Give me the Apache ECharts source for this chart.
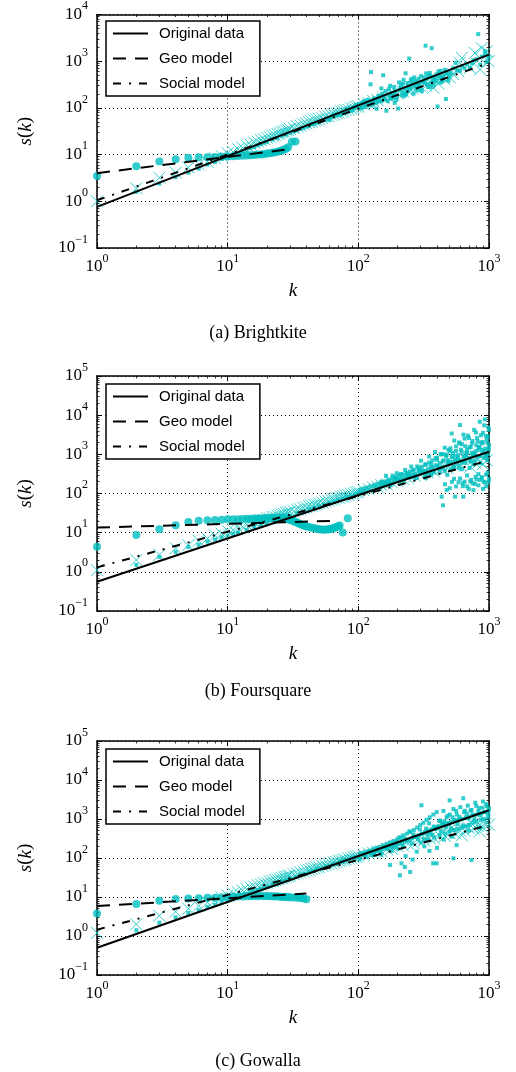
<!DOCTYPE html>
<html><head><meta charset="utf-8">
<script src="https://cdn.jsdelivr.net/npm/echarts@6/dist/echarts.min.js"></script>
<style>html,body{margin:0;padding:0;background:#fff}#c{width:516px;height:1072px}</style>
</head><body><div id="c"></div>
<script>
// ---------------- DATA ----------------
const captions = ['(a) Brightkite', '(b) Foursquare', '(c) Gowalla'];
const legendNames = ['Original data', 'Geo model', 'Social model'];
const xRange = [1, 1000];
const yRanges = [[0.1, 10000], [0.1, 100000], [0.1, 100000]];

// (a) Brightkite
const bkObserved = [[2,1.6],[3,2.4],[4,3.3],[5,4.1],[6,5.0],[7,6.1],[8,6.9],[9,8.1],[10,8.8],[11,9.9],[12,10.6],[13,11.9],[14,12.5],[15,13.8],[16,14.6],[17,15.9],[18,16.8],[19,17.9],[20,18.7],[22,21.2],[24,22.6],[26,25.3],[28,26.8],[30,29.5],[32,31.2],[34,32.8],[36,35.6],[38,36.9],[40,39.8],[42,41.2],[44,44.5],[46,45.1],[48,48.9],[50,49.3],[53,54.1],[56,55.8],[59,60.9],[60,55],[62,62.4],[65,67.8],[66,72],[68,69.1],[71,75.2],[72,70],[74,74.6],[77,82.3],[78,78],[80,84.7],[83,86.2],[84,96],[86,93.5],[89,94.8],[90,88],[92,101],[95,103],[96,115],[98,110],[100,118],[102,122],[104,108],[106,98],[108,127],[110,140],[112,104],[114,118],[116,134],[118,150],[120,126],[122,112],[124,320],[125,585],[126,135],[128,143],[130,117],[132,160],[135,152],[136,128],[138,96],[140,136],[142,180],[145,168],[146,142],[150,139],[150,262],[152,200],[155,182],[155,500],[158,165],[160,151],[162,230],[164,87],[168,140],[170,193],[172,255],[175,158],[175,298],[178,185],[180,209],[182,160],[185,172],[188,280],[190,231],[190,128],[192,205],[195,149],[198,175],[202,97],[205,352],[206,240],[210,263],[212,310],[215,188],[218,215],[220,331],[222,400],[225,178],[228,260],[230,550],[232,195],[235,221],[238,340],[240,292],[244,270],[245,1140],[250,248],[252,380],[255,418],[258,338],[260,300],[265,202],[268,450],[272,383],[276,260],[280,301],[284,350],[285,239],[290,421],[292,320],[300,268],[302,480],[306,230],[310,362],[316,390],[320,452],[324,340],[327,2150],[330,548],[335,318],[338,420],[342,280],[345,482],[350,505],[352,560],[355,281],[360,340],[364,1900],[368,470],[370,398],[375,302],[380,352],[384,410],[390,448],[395,521],[398,380],[404,107],[410,603],[414,500],[420,432],[426,620],[430,349],[436,460],[440,381],[448,420],[450,498],[460,652],[468,155],[472,540],[480,561],[490,380],[500,468],[510,560],[530,700],[555,920],[570,640],[600,618],[620,780],[650,705],[680,860],[714,720],[740,900],[760,1050],[800,1100],[827,3800],[857,850],[880,1250],[930,1630],[940,1350],[960,980],[990,1210]];
const bkGeo = [[1,3.5],[2,5.6],[3,7.1],[4,8.0],[5,8.6],[6,8.8],[7,8.8],[8,8.9],[9,9.0],[10,9.1],[11,9.2],[12,9.3],[13,9.4],[14,9.6],[15,9.7],[16,9.8],[17,10.0],[18,10.1],[19,10.3],[20,10.5],[21,10.7],[22,10.9],[23,11.2],[24,11.5],[25,11.9],[26,12.3],[27,12.8],[28,13.4],[29,14.3],[31,18.8],[33,19.1]];
const bkSocial = [[1,1.0],[2,1.9],[3,3.2],[4,4.1],[5,5.3],[6,6.2],[7,7.1],[8,8.4],[9,9.3],[10,10.7],[11,11.4],[12,13.1],[13,14.0],[14,15.6],[15,16.3],[16,18.1],[17,19.0],[18,20.4],[19,21.3],[20,22.9],[21,23.7],[22,25.2],[23,26.1],[24,27.8],[25,28.6],[26,30.3],[27,31.1],[28,32.9],[29,33.6],[30,35.2],[32,37.1],[34,40.3],[36,41.8],[38,44.9],[40,46.5],[42,49.6],[44,50.8],[46,54.0],[48,55.1],[50,58.2],[53,60.3],[56,64.5],[59,66.2],[62,71.0],[65,72.6],[68,77.4],[71,78.9],[74,83.8],[77,85.1],[80,90.2],[84,91.6],[88,97.8],[92,99.5],[96,106],[100,107],[110,119],[120,127],[130,140],[140,147],[155,163],[170,173],[185,192],[200,203],[220,224],[240,236],[260,259],[280,266],[300,290],[330,298],[375,270],[410,330],[457,408],[500,450],[532,525],[582,615],[595,920],[620,1180],[715,720],[780,1500],[850,1170],[855,665],[877,1910],[960,1630],[990,1000]];
const bkFitOriginal = [[1,0.76],[1000,1380]];
const bkFitGeo = [[1,4.0],[28,12.8]];
const bkFitSocial = [[1,1.05],[1000,915]];

// (b) Foursquare
const fsObserved = [[2,1.5],[3,2.4],[4,3.2],[5,4.3],[6,4.9],[7,5.9],[8,6.7],[9,7.6],[10,8.4],[11,9.3],[12,10.2],[14,11.6],[16,13.7],[18,15.1],[20,17.6],[23,19.8],[26,23.2],[30,26.5],[34,31.4],[38,34.6],[42,39.5],[46,42.8],[50,47.6],[55,51.9],[60,57.8],[65,62.1],[70,68.9],[76,73.2],[82,81.1],[88,85.4],[94,94.2],
[100,98],[103,121],[106,104],[110,131],[113,112],[116,142],[120,124],[124,151],[128,117],[132,162],[136,139],[140,177],[145,149],[150,192],[155,158],[160,203],[165,173],[170,222],[175,184],[180,243],[186,198],[192,262],[198,213],[205,284],[212,228],[218,302],[225,247],[232,333],[240,268],[248,362],[256,287],[264,405],[272,318],[280,248],[288,442],[296,348],[305,483],[314,377],[322,298],[330,562],[330,252],[340,418],[350,622],[360,458],[360,302],[370,705],[380,348],[390,523],[390,803],[400,821],[410,428],[420,602],[420,352],[430,1005],[434,83],[440,478],[445,50],[450,702],[450,1010],[460,381],[470,903],[475,123],[480,552],[480,298],[490,1310],[500,641],[500,1205],[510,418],[518,3400],[520,852],[520,198],[530,1105],[530,652],[540,482],[550,83],[550,721],[560,1602],[560,152],[560,905],[570,558],[580,952],[590,2010],[590,452],[600,5600],[600,702],[600,241],[610,1305],[620,418],[620,1810],[630,182],[635,83],[640,853],[650,2520],[650,201],[650,948],[660,603],[670,1102],[680,152],[680,1302],[690,3010],[700,802],[700,131],[710,1505],[710,448],[720,203],[730,652],[740,1905],[740,1102],[750,951],[750,181],[760,122],[770,4210],[770,553],[780,702],[790,1203],[790,268],[800,231],[800,1702],[810,2610],[820,902],[830,162],[830,1303],[840,1502],[850,6800],[850,222],[860,603],[860,902],[870,2005],[880,262],[890,1102],[890,1903],[900,3520],[900,131],[910,202],[920,803],[920,1205],[930,7800],[940,1402],[950,152],[950,302],[950,903],[960,2405],[970,702],[980,1003],[980,2810],[990,4820],[990,191],[995,1302],[1000,1705],
[150,200],[157,166],[163,283],[170,205],[176,162],[183,286],[190,242],[197,330],[204,231],[212,315],[220,219],[228,399],[236,320],[245,296],[254,488],[263,387],[272,291],[282,491],[292,390],[302,684],[313,356],[324,538],[336,315],[348,874],[360,566],[373,470],[386,1142],[400,723],[414,441],[428,1005],[443,665],[458,1476],[474,971],[490,636],[507,1430],[524,912],[542,2246],[560,1226],[579,827],[598,1911],[618,1161],[638,3182],[659,1613],[680,1100],[702,2597],[724,1545],[747,2189],[770,1045],[794,3600],[818,2139],[843,1538],[868,3078],[894,2052],[920,5512],[947,2957],[973,1974],[1000,4212],
[160,185],[175,170],[195,241],[215,192],[240,278],[266,257],[295,393],[330,360],[365,327],[405,516],[445,452],[485,710],[530,460],[575,693],[620,617],[670,930],[720,690],[775,1000],[830,900],[885,1320],[940,980],[990,1380],
[460,172],[500,136],[540,236],[585,195],[630,154],[680,289],[730,222],[780,176],[830,313],[880,243],[930,192],[975,338],[1000,234]];
const fsGeo = [[1,4.4],[2,8.7],[3,12.2],[4,15.4],[5,18.8],[6,20.1],[7,20.8],[8,21.2],[9,21.4],[10,21.9],[11,22.1],[12,22.0],[13,22.4],[14,22.6],[15,22.5],[16,22.9],[17,23.1],[18,23.0],[19,23.4],[20,23.6],[21,23.5],[22,23.9],[23,24.2],[24,24.0],[25,24.4],[26,24.1],[27,23.7],[28,23.0],[29,22.1],[30,21.2],[31,20.3],[32,19.5],[33,18.7],[34,18.1],[35,17.2],[36,16.6],[37,16.0],[38,15.4],[39,15.0],[40,14.4],[42,13.9],[44,13.3],[46,12.9],[48,12.5],[50,12.2],[52,12.0],[54,11.9],[56,12.0],[58,12.1],[60,12.3],[62,12.6],[64,12.9],[66,13.3],[68,13.9],[70,14.6],[72,15.3],[76,10.1],[83,23.4]];
const fsSocial = [[1,1.1],[2,2.0],[3,2.7],[4,4.0],[5,4.8],[6,6.2],[7,7.1],[8,8.5],[9,9.4],[10,11.1],[11,11.8],[12,13.5],[13,14.2],[14,15.9],[15,16.5],[16,18.3],[17,18.8],[18,20.6],[19,21.0],[20,22.9],[21,23.2],[22,25.1],[23,25.5],[24,27.4],[25,27.8],[26,29.7],[27,30.0],[28,32.0],[29,32.2],[30,34.2],[32,35.5],[34,38.7],[36,39.8],[38,43.1],[40,44.0],[42,47.5],[44,48.4],[46,51.9],[48,52.8],[50,56.3],[53,58.2],[56,63.1],[59,64.8],[62,69.6],[65,71.3],[68,76.4],[71,77.8],[74,83.0],[77,84.2],[80,89.5],[84,91.4],[88,98.1],[92,100],[96,107],[100,109],[110,121],[120,129],[130,142],[140,149],[150,163],[165,172],[180,194],[200,207],[220,236],[240,246],[270,282],[300,296],[340,342],[380,362],[430,418],[480,442],[540,512],[600,538],[675,710],[720,480],[780,612],[850,655],[900,562],[960,705]];
const fsFitOriginal = [[1,0.56],[1000,1165]];
const fsFitGeo = [[1,13.5],[68,20.2]];
const fsFitSocial = [[1,1.3],[1000,700]];

// (c) Gowalla
const gwObserved = [[2,1.4],[3,2.2],[4,3.0],[5,3.9],[6,4.6],[7,5.6],[8,6.3],[9,7.3],[10,7.9],[11,9.1],[12,9.8],[13,11.2],[14,11.8],[15,13.3],[16,13.9],[17,15.2],[18,16.0],[19,17.4],[20,18.1],[22,20.9],[24,22.3],[26,25.4],[28,26.9],[30,30.5],[33,32.4],[36,37.2],[39,39.1],[42,44.6],[45,46.2],[48,51.8],[52,53.6],[56,61.2],[60,62.9],[64,70.4],[68,72.1],[72,80.6],[76,81.9],[80,89.7],[85,92.5],[90,102],[95,104],
[100,106],[102,95],[104,131],[108,117],[110,125],[112,141],[116,109],[118,140],[120,152],[124,134],[126,120],[128,166],[132,124],[134,150],[136,177],[140,149],[142,170],[145,192],[148,140],[150,121],[150,164],[155,211],[158,190],[160,174],[165,232],[168,170],[170,189],[175,66],[175,251],[178,220],[180,151],[180,199],[186,272],[188,190],[192,214],[196,250],[198,302],[200,172],[204,231],[208,36],[210,322],[214,73],[216,251],[220,381],[227,59],[228,268],[230,112],[235,421],[242,288],[249,44],[250,462],[258,318],[260,91],[266,523],[274,352],[280,145],[282,604],[290,378],[298,702],[300,251],[304,2250],[306,418],[315,803],[320,199],[324,462],[333,948],[340,301],[342,503],[350,152],[352,1105],[362,548],[374,73],[375,1302],[380,338],[386,602],[397,73],[398,1505],[400,182],[410,648],[420,382],[422,903],[434,698],[448,1602],[450,298],[460,752],[460,421],[474,1103],[488,798],[500,3000],[500,482],[502,1305],[517,851],[520,352],[534,98],[534,1802],[540,522],[550,903],[565,214],[568,1302],[580,562],[585,948],[604,2010],[620,602],[624,1003],[635,3400],[645,1502],[660,641],[666,1102],[688,2205],[700,502],[700,702],[710,1152],[735,89],[735,1702],[750,803],[760,1252],[785,2605],[800,852],[810,1302],[840,1903],[850,598],[860,952],[870,1402],[900,2805],[920,1002],[930,1502],[960,2103],[980,1102],[990,1603],
[206,341],[218,210],[226,321],[238,279],[246,483],[256,237],[264,403],[272,345],[286,308],[296,540],[310,423],[318,305],[330,569],[338,398],[348,776],[358,451],[368,389],[378,641],[392,557],
[404,609],[416,900],[428,498],[440,770],[454,866],[468,621],[482,1214],[496,737],[510,572],[526,1106],[546,948],[560,1613],[576,745],[594,1135],[612,986],[632,683],[654,1621],[676,1368],[698,1036],[722,1643],[748,1299],[774,982],[800,2168],[830,1596],[860,1247],[890,1944],[920,1496],[950,2406],[980,1369],[1000,1848]];
const gwGeo = [[1,3.8],[2,6.6],[3,8.0],[4,8.9],[5,9.2],[6,9.3],[7,9.5],[8,9.6],[9,9.8],[10,10.0],[11,10.1],[12,10.3],[13,10.3],[14,10.5],[15,10.4],[16,10.6],[17,10.5],[18,10.7],[19,10.5],[20,10.6],[21,10.4],[22,10.5],[23,10.3],[24,10.4],[25,10.2],[26,10.2],[27,10.0],[28,10.1],[29,9.9],[30,9.9],[32,9.7],[34,9.6],[36,9.4],[38,9.1],[40,8.7]];
const gwSocial = [[1,1.2],[2,2.0],[3,3.3],[4,4.2],[5,5.0],[6,5.9],[7,7.3],[8,8.2],[9,9.7],[10,10.9],[11,12.4],[12,13.3],[13,14.8],[14,15.8],[15,17.4],[16,18.3],[17,20.0],[18,20.8],[19,22.5],[20,23.3],[21,25.0],[22,25.8],[23,27.5],[24,28.2],[25,29.9],[26,30.6],[27,32.3],[28,33.0],[29,34.7],[30,35.4],[32,38.4],[34,40.1],[36,43.2],[38,44.8],[40,48.0],[42,49.6],[44,52.6],[46,54.0],[48,57.3],[50,58.6],[53,63.1],[56,65.4],[59,70.2],[62,72.3],[65,76.9],[68,78.8],[71,83.7],[74,85.4],[77,90.1],[80,91.5],[84,97.2],[88,99.1],[92,105],[96,107],[100,113],[110,119],[120,130],[130,135],[140,148],[150,150],[165,168],[180,174],[200,199],[220,205],[240,231],[265,238],[290,272],[320,281],[350,322],[380,318],[420,372],[450,520],[460,365],[500,432],[520,610],[550,428],[600,505],[620,380],[650,498],[700,578],[720,820],[760,570],[820,662],[850,480],[880,640],[930,900],[940,745],[1000,720]];
const gwFitOriginal = [[1,0.5],[1000,1680]];
const gwFitGeo = [[1,5.85],[40,12.3]];
const gwFitSocial = [[1,1.45],[1000,700]];

// ---------------- CHART ----------------
const CYAN = '#00BFBF';
const SERIF = '"Liberation Serif", "DejaVu Serif", serif';
const SANS = '"Liberation Sans", Arial, sans-serif';

const panels = [
  {obs: bkObserved, geo: bkGeo, soc: bkSocial, fo: bkFitOriginal, fg: bkFitGeo, fs: bkFitSocial, yr: yRanges[0], top: 13, height: 235, legendTop: 21, capTop: 319},
  {obs: fsObserved, geo: fsGeo, soc: fsSocial, fo: fsFitOriginal, fg: fsFitGeo, fs: fsFitSocial, yr: yRanges[1], top: 376, height: 235, legendTop: 384, capTop: 677},
  {obs: gwObserved, geo: gwGeo, soc: gwSocial, fo: gwFitOriginal, fg: gwFitGeo, fs: gwFitSocial, yr: yRanges[2], top: 741, height: 234, legendTop: 749, capTop: 1047}
];

function powLabel(v) {
  const e = Math.round(Math.log10(v));
  return '{b|10}{s|' + (e < 0 ? '\u2212' + (-e) : String(e)) + '}';
}
function labelRich() {
  return {
    b: {fontFamily: SERIF, fontSize: 17, color: '#000', lineHeight: 24, height: 24, verticalAlign: 'bottom'},
    s: {fontFamily: SERIF, fontSize: 12, color: '#000', lineHeight: 7, height: 7, verticalAlign: 'top'}
  };
}
function baseAxis(gi, min, max, position) {
  return {
    type: 'log', logBase: 10, gridIndex: gi, min: min, max: max, position: position,
    axisLine: {show: true, onZero: false, lineStyle: {color: '#000', width: 1.5}},
    axisTick: {show: true, inside: true, length: 5, lineStyle: {color: '#000', width: 1}},
    minorTick: {show: true, splitNumber: 9, length: 2.5, lineStyle: {color: '#000', width: 0.8}},
    splitLine: {show: false},
    axisLabel: {show: false}
  };
}

const grid = [], xAxis = [], yAxis = [], series = [], legend = [], title = [];
panels.forEach((p, i) => {
  grid.push({left: 97, top: p.top, width: 392, height: p.height});
  const xi = xAxis.length, yi = yAxis.length;
  const xb = baseAxis(i, xRange[0], xRange[1], 'bottom');
  xb.splitLine = {show: true, lineStyle: {color: '#000', width: 1, type: [1, 3]}};
  xb.axisLabel = {show: true, formatter: powLabel, rich: labelRich(), margin: 7};
  xb.name = 'k'; xb.nameLocation = 'middle'; xb.nameGap = 33;
  xb.nameTextStyle = {fontFamily: SERIF, fontStyle: 'italic', fontSize: 19, color: '#000'};
  xAxis.push(xb);
  xAxis.push(baseAxis(i, xRange[0], xRange[1], 'top'));
  const yl = baseAxis(i, p.yr[0], p.yr[1], 'left');
  yl.splitLine = {show: true, lineStyle: {color: '#000', width: 1, type: [1, 3]}};
  yl.axisLabel = {show: true, formatter: powLabel, rich: labelRich(), margin: 9};
  yl.name = '{i|s}({i|k})';
  yl.nameLocation = 'middle'; yl.nameGap = 62; yl.nameRotate = 90;
  yl.nameTextStyle = {fontFamily: SERIF, fontSize: 19, color: '#000', rich: {i: {fontFamily: SERIF, fontStyle: 'italic', fontSize: 19, color: '#000'}}};
  yAxis.push(yl);
  yAxis.push(baseAxis(i, p.yr[0], p.yr[1], 'right'));

  const common = {xAxisIndex: xi, yAxisIndex: yi, silent: true, animation: false};
  series.push(Object.assign({type: 'scatter', name: 'geo-points', data: p.geo, symbol: 'circle', symbolSize: 8, itemStyle: {color: CYAN}, z: 2}, common));
  series.push(Object.assign({type: 'scatter', name: 'social-points', data: p.soc, symbol: 'path://M0,0L10,10M10,0L0,10', symbolSize: 12, itemStyle: {color: CYAN, borderColor: CYAN, borderWidth: 1}, z: 2}, common));
  series.push(Object.assign({type: 'scatter', name: 'observed-points', data: p.obs, symbol: 'rect', symbolSize: 4, itemStyle: {color: CYAN}, z: 3}, common));
  series.push(Object.assign({type: 'line', name: legendNames[0], data: p.fo, symbol: 'none', lineStyle: {color: '#000', width: 2, type: 'solid'}, itemStyle: {color: '#000'}, z: 5}, common));
  series.push(Object.assign({type: 'line', name: legendNames[1], data: p.fg, symbol: 'none', lineStyle: {color: '#000', width: 2, type: [13, 9]}, itemStyle: {color: '#000'}, z: 5}, common));
  series.push(Object.assign({type: 'line', name: legendNames[2], data: p.fs, symbol: 'none', lineStyle: {color: '#000', width: 2, type: [8, 8, 2, 8]}, itemStyle: {color: '#000'}, z: 5}, common));

  legend.push({
    data: legendNames, orient: 'vertical', left: 106, top: p.legendTop,
    padding: [5, 15, 5, 6], itemGap: 10, itemWidth: 35, itemHeight: 14,
    borderColor: '#000', borderWidth: 1.5, borderRadius: 0, backgroundColor: '#fff',
    itemStyle: {opacity: 0},
    lineStyle: {color: '#000', width: 2},
    textStyle: {fontFamily: SANS, fontSize: 15, color: '#000', padding: [0, 0, 0, 6]},
    selectedMode: false, z: 10
  });
  title.push({text: captions[i], left: 'center', top: p.capTop, textStyle: {fontFamily: SERIF, fontSize: 18, fontWeight: 'normal', color: '#000'}});
});

const chart = echarts.init(document.getElementById('c'), null, {renderer: 'canvas', width: 516, height: 1072});
chart.setOption({animation: false, backgroundColor: '#fff', grid, xAxis, yAxis, series, legend, title});
</script>
</body></html>
